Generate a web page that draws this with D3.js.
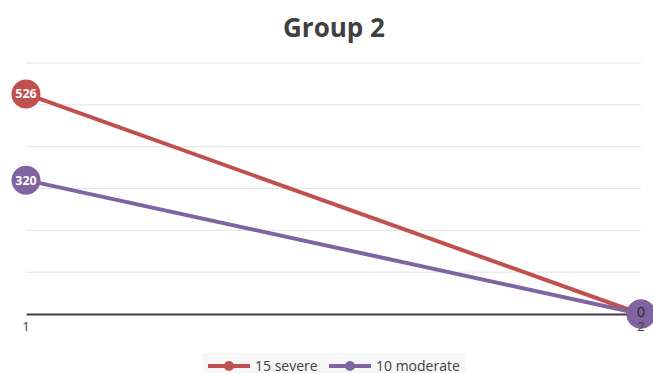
<!DOCTYPE html>
<html>
<head>
<meta charset="utf-8">
<script src="https://cdn.jsdelivr.net/npm/d3@7"></script>
<style>
  html, body { margin: 0; padding: 0; background: #fff; }
  svg { display: block; font-family: "Open Sans", "Noto Sans", sans-serif; }
</style>
</head>
<body>
<svg id="chart" width="653" height="374"></svg>
<script>
// Chart data
const categories = ["1", "2"];
const severe = [526, 0];
const moderate = [320, 0];
const seriesNames = ["15 severe", "10 moderate"];
const yTicks = [0, 100, 200, 300, 400, 500, 600];

const colors = ["#C0504D", "#8064A2"];
const series = [
  { name: seriesNames[0], values: severe, color: colors[0] },
  { name: seriesNames[1], values: moderate, color: colors[1] }
];

const svg = d3.select("#chart");
const margin = { left: 26, right: 12, top: 63, bottom: 60 };
const W = 653, H = 374;

const x = d3.scalePoint().domain(categories).range([margin.left, W - margin.right]);
const y = d3.scaleLinear().domain([0, 600]).range([H - margin.bottom, margin.top]);

// Title
svg.append("text")
  .attr("x", 334).attr("y", 37)
  .attr("text-anchor", "middle")
  .attr("font-size", 26).attr("font-weight", 700)
  .attr("fill", "#404040")
  .text("Group 2");

// Horizontal gridlines
svg.append("g").selectAll("line")
  .data(yTicks.filter(d => d > 0))
  .join("line")
  .attr("x1", margin.left).attr("x2", W - margin.right)
  .attr("y1", d => y(d)).attr("y2", d => y(d))
  .attr("stroke", "#E3E3E3").attr("stroke-width", 1);

// Category axis line
const xAxis = svg.append("g")
  .attr("transform", `translate(0,${y(0)})`)
  .call(d3.axisBottom(x).tickSize(0).tickFormat(""));
xAxis.select(".domain").attr("stroke", "#404040").attr("stroke-width", 2);

// Lines
const line = d3.line().x((d, i) => x(categories[i])).y(d => y(d));
svg.append("g").selectAll("path")
  .data(series)
  .join("path")
  .attr("d", s => line(s.values))
  .attr("fill", "none")
  .attr("stroke", s => s.color)
  .attr("stroke-width", 4)
  .attr("stroke-linecap", "round");

// Markers with value labels
series.forEach(s => {
  const g = svg.append("g");
  s.values.forEach((v, i) => {
    g.append("circle")
      .attr("cx", x(categories[i])).attr("cy", y(v))
      .attr("r", 14.5).attr("fill", s.color);
    g.append("text")
      .attr("x", x(categories[i])).attr("y", v === 0 ? y(v) - 2 : y(v))
      .attr("dy", "0.36em")
      .attr("text-anchor", "middle")
      .attr("font-size", v === 0 ? 14 : 12.5)
      .attr("font-weight", v === 0 ? 400 : 700)
      .attr("fill", v === 0 ? "#262626" : "#fff")
      .text(v);
  });
});

// Category tick labels, drawn above the markers
svg.append("g").selectAll("text")
  .data(categories)
  .join("text")
  .attr("x", d => x(d)).attr("y", y(0) + 17)
  .attr("text-anchor", "middle")
  .attr("font-size", 13).attr("fill", "#404040")
  .text(d => d);

// Legend
const legend = svg.append("g");
legend.append("rect")
  .attr("x", 203).attr("y", 353).attr("width", 263).attr("height", 20)
  .attr("fill", "#F7F7F7");
const legendItems = [
  { s: series[0], x0: 208 },
  { s: series[1], x0: 329 }
];
legendItems.forEach(({ s, x0 }) => {
  legend.append("line")
    .attr("x1", x0).attr("x2", x0 + 42)
    .attr("y1", 366).attr("y2", 366)
    .attr("stroke", s.color).attr("stroke-width", 4);
  legend.append("circle")
    .attr("cx", x0 + 21).attr("cy", 366).attr("r", 5)
    .attr("fill", s.color);
  legend.append("text")
    .attr("x", x0 + 47).attr("y", 366).attr("dy", "0.35em")
    .attr("font-size", 14).attr("fill", "#404040")
    .text(s.name);
});
</script>
</body>
</html>
